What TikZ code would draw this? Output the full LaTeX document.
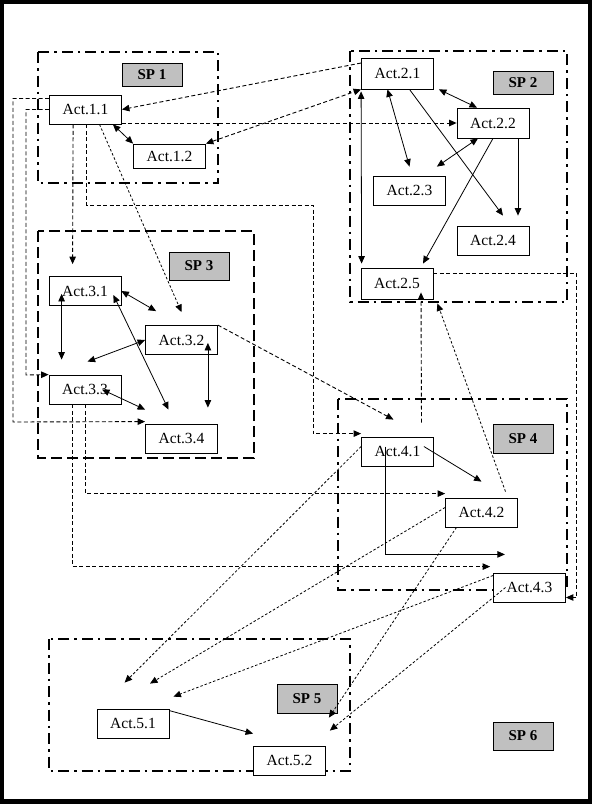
\documentclass[tikz,border=0pt]{standalone}
\usepackage{fontspec}
\setmainfont{Liberation Serif}
\usetikzlibrary{arrows.meta}
\definecolor{spGray}{HTML}{C0C0C0}

\begin{document}
\begin{tikzpicture}[x=1pt, y=-1pt, >={Triangle[length=7.5pt,width=6.5pt]},
    act/.style={draw, fill=white, line width=0.8pt, minimum width=72pt,
        minimum height=29pt, inner sep=0pt, font=\fontsize{15.5}{17}\selectfont},
    sp/.style={draw, fill=spGray, line width=0.8pt, minimum width=60pt,
        minimum height=28pt, inner sep=0pt, font=\bfseries\fontsize{15}{17}\selectfont},
    dashdot/.style={line width=2.5pt, dash pattern=on 11pt off 5pt on 2.5pt off 5pt},
    longdash/.style={line width=2.5pt, dash pattern=on 11pt off 5pt},
    link/.style={line width=0.8pt},
    dep/.style={line width=0.9pt, dash pattern=on 4pt off 2.5pt},
    depfine/.style={line width=0.8pt, dash pattern=on 2.5pt off 2pt}]

    % frame
    \useasboundingbox (0,0) rectangle (592,804);
    \fill[black] (0,0) rectangle (592,804);
    \fill[white] (4,4) rectangle (588,799);

    % sub-processes
    \draw[dashdot] (38,52) rectangle (218,183);
    \draw[dashdot] (350,51) rectangle (567,302);
    \draw[longdash] (38,231) rectangle (254,458);
    \draw[dashdot] (338,399) rectangle (567,590);
    \draw[dashdot] (49,639) rectangle (350,771);

    \node[sp, minimum height=23pt] (sp1) at (152,74.5) {SP 1};
    \node[sp, minimum height=23pt] (sp2) at (523,82.5) {SP 2};
    \node[sp] (sp3) at (199,266) {SP 3};
    \node[sp, minimum height=29pt] (sp4) at (523,438.5) {SP 4};
    \node[sp, minimum height=29pt] (sp5) at (307,698.5) {SP 5};
    \node[sp] (sp6) at (523,736) {SP 6};

    % activities
    \node[act] (act11) at (85.5,109.5) {Act.1.1};
    \node[act, minimum height=24pt] (act12) at (169.5,156) {Act.1.2};
    \node[act, minimum height=31pt] (act21) at (397.5,73.5) {Act.2.1};
    \node[act, minimum height=30pt] (act22) at (493,123) {Act.2.2};
    \node[act] (act23) at (409.5,190.5) {Act.2.3};
    \node[act] (act24) at (493,240.5) {Act.2.4};
    \node[act, minimum height=31pt] (act25) at (397,283.5) {Act.2.5};
    \node[act] (act31) at (85,291) {Act.3.1};
    \node[act] (act32) at (181.5,340) {Act.3.2};
    \node[act] (act33) at (85,389.5) {Act.3.3};
    \node[act] (act34) at (181.5,438.5) {Act.3.4};
    \node[act] (act41) at (397.5,451.5) {Act.4.1};
    \node[act] (act42) at (481.5,512.5) {Act.4.2};
    \node[act] (act43) at (529.5,587.5) {Act.4.3};
    \node[act] (act51) at (133,723.5) {Act.5.1};
    \node[act] (act52) at (289.5,760.5) {Act.5.2};

    % links from SP 1
    \draw[dep,->] ([yshift=10.5pt]act21.west) -- (act11.east);
    \draw[dep,<->] (act12.north east) -- (act21.south west);
    \draw[dep,->] (act11.east |- act22.west) -- (act22.west);
    \draw[link,<->] ([xshift=-9pt]act11.south east) -- (act12.north west);
    \draw[dep,->] ([yshift=11pt]act11.west) -| (13,422) -- ([yshift=2pt]act34.north west);
    \draw[dep,->] (act11.west) -| (26,375) -- (act33.north west);
    \draw[dep,->] ([xshift=24pt]act11.south west) -- ([xshift=24pt,yshift=12pt]act31.north west);
    \draw[dep,->] ([xshift=37pt]act11.south west) |- (313,205) |- ([yshift=3pt]act41.north west);
    \draw[depfine,->] ([xshift=14pt]act11.south) -- ([yshift=13pt]act32.north);

    % links inside SP 3
    \draw[link,<->] (act31.east) -- ([xshift=11pt,yshift=14pt]act32.north west);
    \draw[link,<->] ([xshift=13pt,yshift=12pt]act31.south west) -- ([xshift=13pt,yshift=15pt]act33.north west);
    \draw[link,<->] (act32.west) -- ([xshift=39pt,yshift=13pt]act33.north west);
    \draw[link,<->] ([xshift=-8pt,yshift=-4pt]act31.east) -- ([xshift=-13pt,yshift=14pt]act34.north);
    \draw[link,<->] ([xshift=-10pt,yshift=12pt]act32.south east) -- ([xshift=-10pt,yshift=16pt]act34.north east);
    \draw[link,<->] ([xshift=17pt]act33.center) -- ([yshift=14pt]act34.north west);
    \draw[dep,->] (act32.north east) -- ([xshift=-4pt,yshift=17pt]act41.north);
    \draw[dep,->] ([xshift=37pt]act33.south west) |- ([yshift=4pt]act42.north west);
    \draw[dep,->] ([xshift=24pt]act33.south west) |- ([xshift=-3pt,yshift=6pt]act43.north west);

    % links inside SP 2
    \draw[link,<->] ([xshift=5pt]act21.south east) -- ([xshift=-16pt]act22.north);
    \draw[link,<->] ([xshift=-10pt]act21.south) -- ([yshift=9pt]act23.north);
    \draw[link,<->] ([xshift=-15pt]act22.south) -- ([xshift=-9pt,yshift=9pt]act23.north east);
    \draw[link,->] ([xshift=12pt]act21.south) -- ([xshift=10pt,yshift=10pt]act24.north);
    \draw[link,->] ([xshift=25pt]act22.south) -- ([xshift=25pt,yshift=10pt]act24.north);
    \draw[link,->] (act22.south) -- ([xshift=26pt,yshift=4pt]act25.north);
    \draw[link,<->] ([yshift=-2pt]act21.south west) -- ([xshift=1pt,yshift=4pt]act25.north west);
    \draw[dep,->] ([yshift=10pt]act25.east) -| ([xshift=11pt,yshift=-10pt]act43.east) -- ([yshift=-10pt]act43.east);

    % links from SP 4
    \draw[dep,->] ([xshift=24pt,yshift=14pt]act41.north) -- ([xshift=24pt,yshift=7pt]act25.south);
    \draw[depfine,->] ([xshift=24pt,yshift=6pt]act42.north) -- ([xshift=4pt,yshift=-4pt]act25.south east);
    \draw[link,->] ([xshift=-10pt,yshift=5pt]act41.east) -- ([yshift=16pt]act42.north);
    \draw[link,->] ([xshift=-12pt,yshift=5pt]act41.center) |- ([xshift=-13pt,yshift=-27pt]act42.south east);
    \draw[depfine,->] ([yshift=5pt]act41.west) -- ([xshift=28pt,yshift=26pt]act51.north west);
    \draw[depfine,->] ([yshift=5pt]act42.west) -- ([xshift=17pt,yshift=25pt]act51.north);
    \draw[depfine,->] ([yshift=12pt]act43.west) -- ([xshift=4pt,yshift=12pt]act51.north east);
    \draw[depfine,->] ([xshift=-25pt]act42.south) -- ([xshift=3pt,yshift=28pt]act52.north east);
    \draw[depfine,->] ([xshift=-24pt]act43.center) -- ([xshift=4pt,yshift=15pt]act52.north east);

    % SP 5
    \draw[link,->] ([yshift=-2pt]act51.north east) -- ([yshift=12pt]act52.north west);

\end{tikzpicture}
\end{document}
